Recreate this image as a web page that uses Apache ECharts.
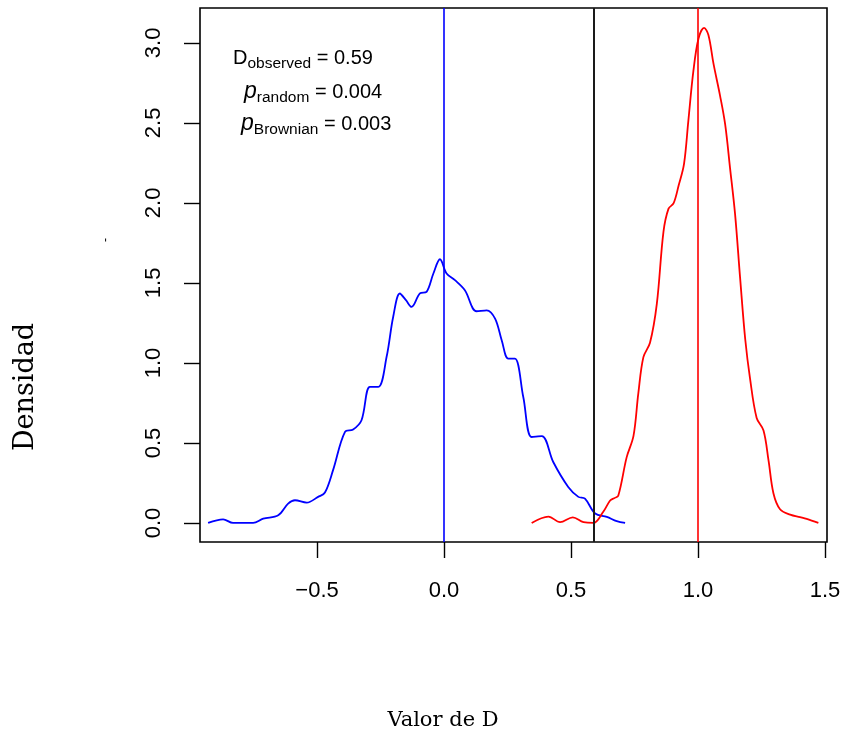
<!DOCTYPE html>
<html>
<head>
<meta charset="utf-8">
<script src="https://cdn.jsdelivr.net/npm/echarts@6/dist/echarts.min.js"></script>
<style>
  html, body { margin: 0; padding: 0; background: #fff; }
  #chart { width: 846px; height: 744px; }
</style>
</head>
<body>
<div id="chart"></div>
<script>
// ---- Data ----
const xTicks = [-0.5, 0.0, 0.5, 1.0, 1.5];
const yTicks = [0.0, 0.5, 1.0, 1.5, 2.0, 2.5, 3.0];

// Brownian (D = 0) simulated distribution (blue)
const brownianX = [-0.929, -0.870, -0.831, -0.752, -0.712, -0.653, -0.614, -0.587, -0.541, -0.496,
  -0.469, -0.437, -0.390, -0.358, -0.325, -0.292, -0.259, -0.226, -0.200, -0.174,
  -0.150, -0.128, -0.095, -0.069, -0.042, -0.016, 0.010, 0.043, 0.082, 0.128,
  0.168, 0.201, 0.227, 0.253, 0.279, 0.312, 0.345, 0.385, 0.430, 0.489,
  0.529, 0.555, 0.595, 0.641, 0.680, 0.713];
const brownianDensity = [0.0, 0.023, 0.0, 0.0, 0.027, 0.048, 0.121, 0.142, 0.127, 0.163,
  0.19, 0.33, 0.569, 0.584, 0.642, 0.85, 0.85, 1.04, 1.29, 1.434,
  1.392, 1.35, 1.434, 1.444, 1.559, 1.648, 1.559, 1.517, 1.454, 1.323,
  1.329, 1.277, 1.142, 1.027, 1.027, 0.787, 0.537, 0.542, 0.381, 0.225,
  0.163, 0.152, 0.059, 0.038, 0.011, 0.0];

// Random (D = 1) simulated distribution (red)
const randomX = [0.345, 0.411, 0.457, 0.507, 0.549, 0.588, 0.627, 0.654, 0.670, 0.686,
  0.719, 0.746, 0.765, 0.785, 0.811, 0.838, 0.864, 0.884, 0.904, 0.924,
  0.945, 0.962, 0.982, 1.002, 1.024, 1.041, 1.061, 1.087, 1.107, 1.126,
  1.146, 1.166, 1.186, 1.205, 1.231, 1.258, 1.278, 1.297, 1.323, 1.363,
  1.402, 1.428, 1.474];
const randomDensity = [0.0, 0.04, 0.005, 0.035, 0.005, 0.0, 0.07, 0.14, 0.155, 0.17,
  0.41, 0.544, 0.81, 1.036, 1.126, 1.371, 1.819, 1.964, 1.998, 2.11,
  2.244, 2.513, 2.826, 3.027, 3.094, 3.049, 2.87, 2.669, 2.49, 2.221,
  1.93, 1.528, 1.148, 0.902, 0.656, 0.578, 0.388, 0.186, 0.086, 0.052,
  0.036, 0.025, 0.0];

const dObserved = 0.59;
const brownianRef = 0.0;
const randomRef = 1.0;
const annotations = ['0.59', '0.004', '0.003'];

// ---- Build ----
const zip = (xs, ys) => xs.map((x, i) => [x, ys[i]]);
const sansFont = 'Liberation Sans';
const serifFont = 'DejaVu Serif';

const chart = echarts.init(document.getElementById('chart'), null, { renderer: 'canvas' });

const richBase = {
  m: { fontFamily: sansFont, fontSize: 20, color: '#000' },
  p: { fontFamily: sansFont, fontSize: 23, fontStyle: 'italic', color: '#000' },
  s: { fontFamily: sansFont, fontSize: 15.5, color: '#000', padding: [11, 0, 0, 0] }
};

const option = {
  backgroundColor: '#ffffff',
  animation: false,
  grid: {
    left: 200, top: 8, right: 19, bottom: 202,
    show: true, borderColor: '#000', borderWidth: 1.6, backgroundColor: 'transparent'
  },
  xAxis: {
    type: 'value', min: -0.961, max: 1.508, position: 'bottom',
    axisLine: { show: false, onZero: false },
    splitLine: { show: false },
    axisTick: { show: true, length: 16, inside: false, customValues: xTicks,
      lineStyle: { color: '#000', width: 1.4 } },
    axisLabel: { show: true, customValues: xTicks, margin: 38,
      fontFamily: sansFont, fontSize: 22, color: '#000',
      formatter: v => (v < 0 ? '\u2212' + Math.abs(v).toFixed(1) : v.toFixed(1)) }
  },
  yAxis: {
    type: 'value', min: -0.119, max: 3.218, position: 'left',
    axisLine: { show: false, onZero: false },
    splitLine: { show: false },
    axisTick: { show: true, length: 16, inside: false, customValues: yTicks,
      lineStyle: { color: '#000', width: 1.4 } },
    axisLabel: { show: true, customValues: yTicks, margin: 35, rotate: 90,
      fontFamily: sansFont, fontSize: 22, color: '#000',
      formatter: v => v.toFixed(1) }
  },
  series: [
    {
      type: 'line', name: 'Brownian', data: zip(brownianX, brownianDensity),
      showSymbol: false, smooth: 0.35,
      lineStyle: { color: '#0000ff', width: 1.8 },
      markLine: {
        silent: true, symbol: ['none', 'none'], label: { show: false },
        lineStyle: { color: '#0000ff', width: 1.6, type: 'solid' },
        data: [{ xAxis: brownianRef }]
      }
    },
    {
      type: 'line', name: 'Random', data: zip(randomX, randomDensity),
      showSymbol: false, smooth: 0.35,
      lineStyle: { color: '#ff0000', width: 1.8 },
      markLine: {
        silent: true, symbol: ['none', 'none'], label: { show: false },
        lineStyle: { color: '#ff0000', width: 1.6, type: 'solid' },
        data: [{ xAxis: randomRef }]
      }
    },
    {
      type: 'line', name: 'Observed', data: [],
      markLine: {
        silent: true, symbol: ['none', 'none'], label: { show: false },
        lineStyle: { color: '#1a1a1a', width: 2, type: 'solid' },
        data: [{ xAxis: dObserved }]
      }
    }
  ],
  graphic: [
    {
      type: 'text', x: 233, y: 58,
      style: {
        text: '{m|D}{s|observed}{m| = ' + annotations[0] + '}',
        verticalAlign: 'middle', align: 'left', rich: richBase
      }
    },
    {
      type: 'text', x: 244, y: 92,
      style: {
        text: '{p|p}{s|random}{m| = ' + annotations[1] + '}',
        verticalAlign: 'middle', align: 'left', rich: richBase
      }
    },
    {
      type: 'text', x: 241, y: 124,
      style: {
        text: '{p|p}{s|Brownian}{m| = ' + annotations[2] + '}',
        verticalAlign: 'middle', align: 'left', rich: richBase
      }
    },
    {
      type: 'text', x: 26, y: 387, rotation: Math.PI / 2,
      style: { text: 'Densidad', fontFamily: serifFont, fontSize: 27, fill: '#000',
        align: 'center', verticalAlign: 'middle' }
    },
    {
      type: 'text', x: 443, y: 721,
      style: { text: 'Valor de D', fontFamily: serifFont, fontSize: 21, fill: '#000',
        align: 'center', verticalAlign: 'middle' }
    },
    {
      type: 'text', x: 106, y: 240, rotation: Math.PI / 2,
      style: { text: '-', fontFamily: sansFont, fontSize: 12, fill: '#000',
        align: 'center', verticalAlign: 'middle' }
    }
  ]
};

chart.setOption(option);
</script>
</body>
</html>
